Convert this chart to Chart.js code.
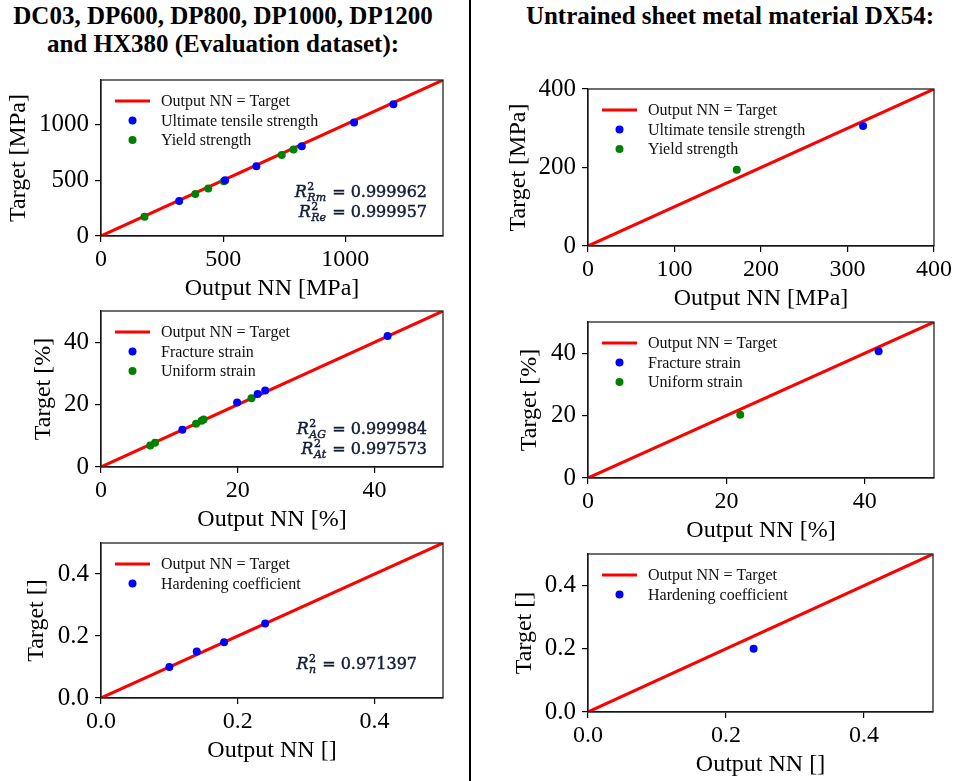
<!DOCTYPE html>
<html>
<head>
<meta charset="utf-8">
<script src="https://cdn.jsdelivr.net/npm/chart.js@4.4.1/dist/chart.umd.min.js"></script>
<style>
  html, body { margin: 0; padding: 0; background: #fff; }
  #page { position: relative; width: 961px; height: 781px; overflow: hidden; background: #fff; }
  .title { position: absolute; font-family: 'Liberation Serif', 'Times New Roman', serif; font-weight: bold;
           font-size: 25px; line-height: 28px; color: #000; text-align: center; white-space: nowrap; }
  #divider { position: absolute; left: 469px; top: 0; width: 2px; height: 781px; background: #000; }
  canvas { position: absolute; }
</style>
</head>
<body>
<div id="page">
  <div class="title" style="left:0;width:446px;top:2px">DC03, DP600, DP800, DP1000, DP1200<br>and HX380 (Evaluation dataset):</div>
  <div class="title" style="left:500px;width:460px;top:2px">Untrained sheet metal material DX54:</div>
  <div id="divider"></div>
</div>
<script>
Chart.defaults.font.family = "'Liberation Serif', 'Times New Roman', serif";
Chart.defaults.color = '#000';

// --- evaluation dataset (DC03, DP600, DP800, DP1000, DP1200, HX380) ---
// strength [MPa]: output of the NN vs. target
const utsEvalOutput = [320, 508, 636, 822, 1036, 1197];
const utsEvalTarget = [315, 501, 627, 806, 1018, 1182];
const ysEvalOutput = [178, 386, 439, 503, 740, 788];
const ysEvalTarget = [173, 376, 427, 492, 728, 776];
// strain [%]
const fracEvalOutput = [11.9, 19.9, 22.9, 24.0, 41.9];
const fracEvalTarget = [11.9, 20.7, 23.4, 24.5, 42.0];
const unifEvalOutput = [7.2, 7.9, 13.9, 14.7, 15.0, 22.0];
const unifEvalTarget = [6.9, 7.8, 13.9, 14.8, 15.2, 22.0];
// hardening coefficient []
const nEvalOutput = [0.10, 0.14, 0.18, 0.24];
const nEvalTarget = [0.10, 0.15, 0.18, 0.24];

// --- untrained material DX54 ---
const utsDxOutput = [318];
const utsDxTarget = [306];
const ysDxOutput = [172];
const ysDxTarget = [194];
const fracDxOutput = [42.0];
const fracDxTarget = [40.6];
const unifDxOutput = [22.0];
const unifDxTarget = [20.3];
const nDxOutput = [0.24];
const nDxTarget = [0.20];

// axis limits / ticks
const strengthEvalMax = 1400;
const strengthEvalTicks = [0, 500, 1000];
const strengthDxMax = 400;
const strengthDxXTicks = [0, 100, 200, 300, 400];
const strengthDxYTicks = [0, 200, 400];
const strainMax = 50;
const strainTicks = [0, 20, 40];
const nMax = 0.5;
const nTicks = [0.0, 0.2, 0.4];

// coefficients of determination
const r2Strength = [['Rm', '0.999962'], ['Re', '0.999957']];
const r2Strain = [['AG', '0.999984'], ['At', '0.997573']];
const r2Hardening = [['n', '0.971397']];

const BLUE = '#0000ff', GREEN = '#008000', RED = '#ff0000';

const panels = [
  { box: [101, 79, 443, 236], yTitleX: 18, max: strengthEvalMax, xTicks: strengthEvalTicks, yTicks: strengthEvalTicks, dec: 0,
    xTitle: 'Output NN [MPa]', yTitle: 'Target [MPa]',
    series: [{ label: 'Ultimate tensile strength', color: BLUE, x: utsEvalOutput, y: utsEvalTarget },
             { label: 'Yield strength', color: GREEN, x: ysEvalOutput, y: ysEvalTarget }],
    r2: r2Strength, r2Base: [39, 19], r2Right: 16 },
  { box: [101, 310, 443, 467], yTitleX: 43, max: strainMax, xTicks: strainTicks, yTicks: strainTicks, dec: 0,
    xTitle: 'Output NN [%]', yTitle: 'Target [%]',
    series: [{ label: 'Fracture strain', color: BLUE, x: fracEvalOutput, y: fracEvalTarget },
             { label: 'Uniform strain', color: GREEN, x: unifEvalOutput, y: unifEvalTarget }],
    r2: r2Strain, r2Base: [33, 13], r2Right: 16 },
  { box: [101, 542, 443, 698], yTitleX: 36, max: nMax, xTicks: nTicks, yTicks: nTicks, dec: 1,
    xTitle: 'Output NN []', yTitle: 'Target []',
    series: [{ label: 'Hardening coefficient', color: BLUE, x: nEvalOutput, y: nEvalTarget }],
    r2: r2Hardening, r2Base: [29], r2Right: 26 },
  { box: [588, 88, 934, 246], yTitleX: 518, max: strengthDxMax, xTicks: strengthDxXTicks, yTicks: strengthDxYTicks, dec: 0,
    xTitle: 'Output NN [MPa]', yTitle: 'Target [MPa]',
    series: [{ label: 'Ultimate tensile strength', color: BLUE, x: utsDxOutput, y: utsDxTarget },
             { label: 'Yield strength', color: GREEN, x: ysDxOutput, y: ysDxTarget }] },
  { box: [588, 321, 934, 478], yTitleX: 529, max: strainMax, xTicks: strainTicks, yTicks: strainTicks, dec: 0,
    xTitle: 'Output NN [%]', yTitle: 'Target [%]',
    series: [{ label: 'Fracture strain', color: BLUE, x: fracDxOutput, y: fracDxTarget },
             { label: 'Uniform strain', color: GREEN, x: unifDxOutput, y: unifDxTarget }] },
  { box: [588, 553, 933, 712], yTitleX: 524, max: nMax, xTicks: nTicks, yTicks: nTicks, dec: 1,
    xTitle: 'Output NN []', yTitle: 'Target []',
    series: [{ label: 'Hardening coefficient', color: BLUE, x: nDxOutput, y: nDxTarget }] }
];

// frame around the plot area (matplotlib spines)
const framePlugin = {
  id: 'frame',
  afterDatasetsDraw(chart) {
    const { ctx, chartArea: a } = chart;
    ctx.save();
    ctx.strokeStyle = '#222';
    ctx.lineWidth = 1.3;
    ctx.strokeRect(a.left, a.top, a.right - a.left, a.bottom - a.top);
    ctx.restore();
  }
};

// legend drawn inside the upper left corner of the plot area
const legendPlugin = {
  id: 'insideLegend',
  afterDraw(chart) {
    const { ctx, chartArea: a } = chart;
    ctx.save();
    ctx.font = '16px "Liberation Serif"';
    ctx.textBaseline = 'middle';
    ctx.textAlign = 'left';
    chart.data.datasets.forEach((ds, i) => {
      const y = a.top + 21 + i * 19.5;
      if (ds.type === 'line') {
        ctx.strokeStyle = ds.borderColor;
        ctx.lineWidth = 3;
        ctx.beginPath();
        ctx.moveTo(a.left + 14, y);
        ctx.lineTo(a.left + 49, y);
        ctx.stroke();
      } else {
        ctx.fillStyle = ds.backgroundColor;
        ctx.beginPath();
        ctx.arc(a.left + 31.5, y, 4, 0, Math.PI * 2);
        ctx.fill();
      }
      ctx.fillStyle = '#111';
      ctx.fillText(ds.label, a.left + 60, y + 1);
    });
    ctx.restore();
  }
};

// R^2 annotation in the lower right corner
const r2Plugin = {
  id: 'r2Text',
  afterDraw(chart) {
    const p = chart.options.plugins.r2Text;
    if (!p || !p.rows) return;
    const { ctx, chartArea: a } = chart;
    const fam = '"DejaVu Serif"';
    const mainF = '16px ' + fam, itF = 'italic 16px ' + fam;
    const subF = 'italic 11px ' + fam, supF = '11px ' + fam;
    ctx.save();
    ctx.fillStyle = '#141d33';
    ctx.strokeStyle = '#141d33';
    ctx.lineWidth = 0.45;
    ctx.textBaseline = 'alphabetic';
    ctx.textAlign = 'left';
    const put = (t, x, y) => { ctx.fillText(t, x, y); ctx.strokeText(t, x, y); };
    p.rows.forEach((row, i) => {
      const base = a.bottom - p.base[i];
      const rest = ' = ' + row[1];
      ctx.font = mainF; const wRest = ctx.measureText(rest).width;
      ctx.font = subF; const wSub = ctx.measureText(row[0]).width;
      ctx.font = supF; const wSup = ctx.measureText('2').width;
      ctx.font = itF; const wR = ctx.measureText('R').width;
      const wScr = Math.max(wSub, wSup) + 1;
      let x = a.right - p.right - (wR + 0.5 + wScr + wRest);
      ctx.font = itF; put('R', x, base);
      x += wR + 0.5;
      ctx.font = supF; put('2', x, base - 7);
      ctx.font = subF; put(row[0], x, base + 4);
      x += wScr;
      ctx.font = mainF; put(rest, x, base);
    });
    ctx.restore();
  }
};

const page = document.getElementById('page');
const xTickFont = { size: 24 };
const yTickFont = { size: 25 };
const titleFont = { size: 24 };

function makePanel(p) {
  const [L, T, R, B] = p.box;
  const cLeft = Math.round(p.yTitleX - 14);
  const cTop = T - 20;
  const w = R + 22 - cLeft;
  const h = B + 67 - cTop;
  const cv = document.createElement('canvas');
  cv.width = w; cv.height = h;
  cv.style.left = cLeft + 'px'; cv.style.top = cTop + 'px';
  cv.style.width = w + 'px'; cv.style.height = h + 'px';
  page.appendChild(cv);
  const yAxisW = L - cLeft;

  const datasets = [{
    type: 'line', label: 'Output NN = Target',
    data: [{ x: 0, y: 0 }, { x: p.max, y: p.max }],
    borderColor: RED, borderWidth: 3, pointRadius: 0, order: 5, tension: 0
  }];
  p.series.forEach(s => {
    datasets.push({
      type: 'scatter', label: s.label,
      data: s.x.map((v, i) => ({ x: v, y: s.y[i] })),
      backgroundColor: s.color, borderColor: s.color,
      pointRadius: 4, pointBorderWidth: 0, order: 1
    });
  });

  const fmt = v => Number(v).toFixed(p.dec);
  const gridOpts = { drawOnChartArea: false, drawTicks: true, tickLength: 6, color: '#000', lineWidth: 1.2 };

  new Chart(cv, {
    type: 'scatter',
    data: { datasets },
    options: {
      responsive: false,
      animation: false,
      devicePixelRatio: 1,
      layout: { padding: { top: 20, right: 22, left: 0, bottom: 0 } },
      plugins: {
        legend: { display: false },
        tooltip: { enabled: false },
        r2Text: { rows: p.r2, base: p.r2Base, right: p.r2Right }
      },
      scales: {
        x: {
          type: 'linear', min: 0, max: p.max,
          afterBuildTicks: s => { s.ticks = p.xTicks.map(v => ({ value: v })); },
          afterFit: s => { s.height = 67; },
          ticks: { font: xTickFont, color: '#000', padding: 3, maxRotation: 0, autoSkip: false, callback: fmt },
          grid: gridOpts,
          border: { display: true, color: '#000', width: 1.2 },
          title: { display: true, text: p.xTitle, font: titleFont, color: '#000', padding: 0 }
        },
        y: {
          type: 'linear', min: 0, max: p.max,
          afterBuildTicks: s => { s.ticks = p.yTicks.map(v => ({ value: v })); },
          afterFit: s => { s.width = yAxisW; },
          ticks: { font: yTickFont, color: '#000', padding: 6, autoSkip: false, callback: fmt },
          grid: gridOpts,
          border: { display: true, color: '#000', width: 1.2 },
          title: { display: true, text: p.yTitle, font: titleFont, color: '#000', padding: 0 }
        }
      }
    },
    plugins: [framePlugin, legendPlugin, r2Plugin]
  });
}

panels.forEach(makePanel);
</script>
</body>
</html>
